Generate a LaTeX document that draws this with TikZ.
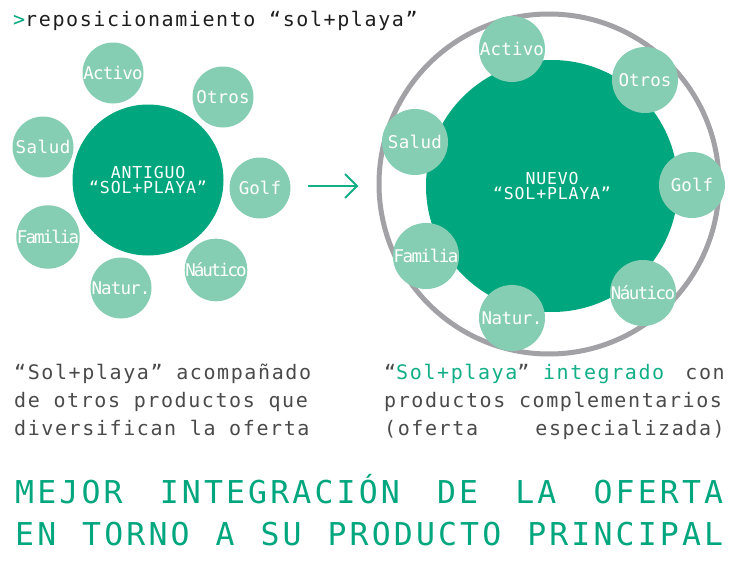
\documentclass[tikz,border=0pt]{standalone}
\usepackage{fontspec}
\setmainfont{DejaVu Sans}
\newfontfamily\mono{DejaVu Sans Mono}
\definecolor{dgreen}{HTML}{00A67D}
\definecolor{lgreen}{HTML}{86CEB3}
\definecolor{ringgray}{HTML}{A2A2A6}
\definecolor{tgreen}{HTML}{12AE86}
\definecolor{bodygray}{HTML}{4A4A4A}
\definecolor{titleblack}{HTML}{1E1E1E}
\newcommand\lsp[1]{\addfontfeature{LetterSpace=#1}}
\newcommand\lblfont{\mono\fontsize{17.5}{15}\selectfont}
\newcommand\ctrfont{\mono\fontsize{16.5}{15}\selectfont\lsp{5}}
\newcommand\bodyfont{\mono\fontsize{20}{22}\selectfont\lsp{8}}
\newcommand\headfont{\mono\fontsize{31.5}{34}\selectfont\lsp{10}}
\begin{document}
\begin{tikzpicture}[x=1pt,y=-1pt,
  bigc/.style={circle, fill=dgreen, inner sep=0pt, text=white, align=center, font=\ctrfont},
  smallc/.style={circle, fill=lgreen, inner sep=0pt, text=white, minimum size=#1, font=\lblfont},
  ringc/.style={circle, draw=ringgray, line width=5pt, inner sep=0pt},
  arrowc/.style={draw=tgreen, line width=1.8pt},
  bodytext/.style={anchor=base west, inner sep=0pt, font=\bodyfont, text=bodygray},
  headtext/.style={anchor=base west, inner sep=0pt, font=\headfont, text=dgreen}
]
\useasboundingbox (0,0) rectangle (740,562);

% title
\node[anchor=base west, inner sep=0pt, font=\bodyfont, text=titleblack] (title) at (13,27)
  {\textcolor{dgreen}{>}reposicionamiento “sol+playa”};

% ---------- left diagram ----------
\node[bigc, minimum size=151pt] (oldc) at (148,180) {ANTIGUO\\“SOL+PLAYA”};
\node[smallc=61pt] (lact) at (113,73) {\lsp{-4.5}Activo};
\node[smallc=61pt] (lotr) at (223,97) {\lsp{1}Otros};
\node[smallc=61pt] (lsal) at (43,147) {\lsp{3}Salud};
\node[smallc=61pt] (lgol) at (260,188) {\lsp{0}Golf};
\node[smallc=61pt] (lfam) at (48,237) {\lsp{-11}Familia};
\node[smallc=61pt] (lnat) at (121,288) {\lsp{-5}Natur.};
\node[smallc=61pt] (lnau) at (216,270) {\lsp{-12}Náutico};

% arrow
\coordinate (arrA) at (308,186);
\coordinate (arrB) at (357,186);
\draw[arrowc] (arrA) -- (arrB);
\draw[arrowc, line join=miter] ([shift={(-12,-12)}]arrB) -- (arrB) -- ([shift={(-12,12)}]arrB);

% ---------- right diagram ----------
\node[ringc, minimum size=340pt] (ring) at (549,184) {};
\node[bigc, minimum size=252pt] (newc) at (552,186) {NUEVO\\“SOL+PLAYA”};
\node[smallc=66pt] (ract) at (512,49) {\lsp{1}Activo};
\node[smallc=66pt] (rotr) at (645,80) {\lsp{0}Otros};
\node[smallc=66pt] (rsal) at (415,142) {\lsp{2}Salud};
\node[smallc=66pt] (rgol) at (692,185) {\lsp{0}Golf};
\node[smallc=66pt] (rfam) at (426,256) {\lsp{-8.5}Familia};
\node[smallc=66pt] (rnat) at (512,318) {\lsp{-3}Natur.};
\node[smallc=66pt] (rnau) at (643,293) {\lsp{-9}Náutico};

% ---------- captions ----------
\node[bodytext] (l1) at (14,379) {“Sol+playa” acompañado};
\node[bodytext] (l2) at (14,407) {de otros productos que};
\node[bodytext] (l3) at (14,435) {diversifican la oferta};

\node[bodytext] (r1a) at (384,379) {“\textcolor{tgreen}{Sol+playa}” \textcolor{tgreen}{integrado}};
\node[bodytext, anchor=base east] (r1b) at (725,379) {con};
\node[bodytext] (r2) at (384,407) {productos complementarios};
\node[bodytext] (r3a) at (384,435) {(oferta};
\node[bodytext, anchor=base east] (r3b) at (725,435) {especializada)};

% ---------- headline ----------
\node[headtext] (h1) at (15,503) {\makebox[708pt][l]{MEJOR \hfill INTEGRACIÓN \hfill DE \hfill LA \hfill OFERTA}};
\node[headtext] (h2) at (15,545) {\makebox[708pt][l]{EN \hfill TORNO \hfill A \hfill SU \hfill PRODUCTO \hfill PRINCIPAL}};
\end{tikzpicture}
\end{document}
